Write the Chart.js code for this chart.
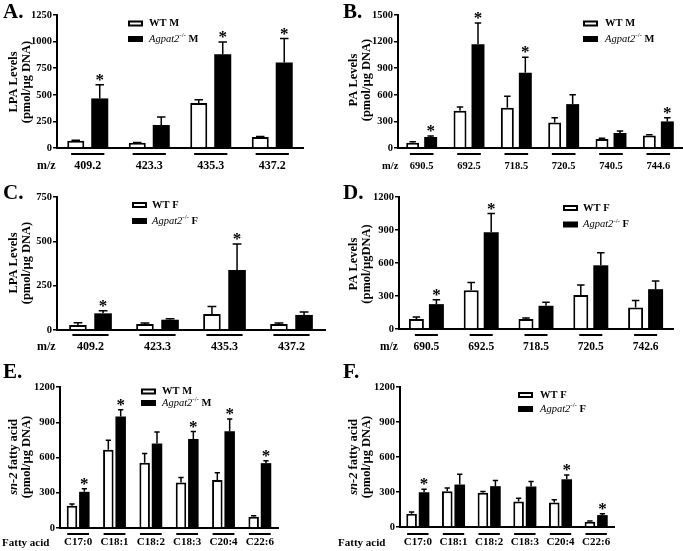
<!DOCTYPE html>
<html>
<head>
<meta charset="utf-8">
<script src="https://cdn.jsdelivr.net/npm/chart.js@4.4.0/dist/chart.umd.min.js"></script>
<style>
body { margin: 0; background: #fff; }
#wrap { position: relative; width: 683px; height: 551px; overflow: hidden; background: #fff; }
canvas { position: absolute; }
</style>
</head>
<body>
<div id="wrap">
  <canvas id="cA"></canvas>
  <canvas id="cB"></canvas>
  <canvas id="cC"></canvas>
  <canvas id="cD"></canvas>
  <canvas id="cE"></canvas>
  <canvas id="cF"></canvas>
</div>
<script>
var serif = '"Liberation Serif", "Times New Roman", serif';

// categories
var lpaMz = ['409.2', '423.3', '435.3', '437.2'];
var paMzMale = ['690.5', '692.5', '718.5', '720.5', '740.5', '744.6'];
var paMzFemale = ['690.5', '692.5', '718.5', '720.5', '742.6'];
var fattyAcids = ['C17:0', 'C18:1', 'C18:2', 'C18:3', 'C20:4', 'C22:6'];

// series names
var maleNames = ['WT M', 'Agpat2-/- M'];
var femaleNames = ['WT F', 'Agpat2-/- F'];

// A. LPA male (mean, error)
var lpaMaleWT = [69, 50, 422, 103];
var lpaMaleWTErr = [3, 2, 31, 4];
var lpaMaleKO = [466, 216, 881, 803];
var lpaMaleKOErr = [128, 75, 116, 225];
var lpaMaleSig = [1, 0, 1, 1];

// B. PA male
var paMaleWT = [60, 420, 454, 289, 101, 142];
var paMaleWTErr = [11, 41, 131, 52, 8, 8];
var paMaleKO = [124, 1170, 848, 495, 169, 300];
var paMaleKOErr = [11, 240, 176, 105, 22, 41];
var paMaleSig = [1, 1, 1, 0, 0, 1];

// C. LPA female
var lpaFemaleWT = [28, 34, 90, 34];
var lpaFemaleWTErr = [13, 5, 42, 5];
var lpaFemaleKO = [94, 58, 338, 85];
var lpaFemaleKOErr = [15, 6, 147, 17];
var lpaFemaleSig = [1, 0, 1, 0];

// D. PA female
var paFemaleWT = [90, 353, 90, 308, 196];
var paFemaleWTErr = [18, 69, 10, 93, 63];
var paFemaleKO = [226, 880, 211, 579, 362];
var paFemaleKOErr = [39, 169, 33, 114, 75];
var paFemaleSig = [1, 1, 0, 0, 0];

// E. sn-2 fatty acids male
var faMaleWT = [190, 665, 555, 388, 408, 96];
var faMaleWTErr = [14, 82, 79, 42, 62, 9];
var faMaleKO = [308, 948, 719, 758, 824, 552];
var faMaleKOErr = [26, 59, 99, 63, 104, 20];
var faMaleSig = [1, 1, 0, 1, 1, 1];

// F. sn-2 fatty acids female
var faFemaleWT = [114, 307, 293, 219, 210, 45];
var faFemaleWTErr = [14, 28, 11, 28, 23, 6];
var faFemaleKO = [298, 364, 350, 347, 409, 102];
var faFemaleKOErr = [26, 88, 48, 43, 37, 12];
var faFemaleSig = [1, 0, 0, 0, 1, 1];

var panels = [
  { id: 'cA', letter: 'A.', box: [0, 0, 340, 180], area: [57, 15, 303, 148], yMax: 1250, yStep: 250,
    labels: lpaMz, names: maleNames, wt: lpaMaleWT, wtErr: lpaMaleWTErr, ko: lpaMaleKO, koErr: lpaMaleKOErr, sig: lpaMaleSig,
    cat: 0.78, bar: 0.71, xFont: 12, xPad: 11, ul: 0.54, ulGap: 6,
    title: [[['LPA Levels', 'bold']], [['(pmol/µg DNA)', 'bold']]], titleX: [14, 27], titleCY: 82,
    leg: [128, 23.5, 39, 149], prefix: 'm/z', prefixPos: [37, 166], letterPos: [3, 18] },
  { id: 'cB', letter: 'B.', box: [340, 0, 343, 180], area: [398, 15, 682, 148], yMax: 1500, yStep: 300,
    labels: paMzMale, names: maleNames, wt: paMaleWT, wtErr: paMaleWTErr, ko: paMaleKO, koErr: paMaleKOErr, sig: paMaleSig,
    cat: 0.76, bar: 0.72, xFont: 10.5, xPad: 12, ul: 0.5, ulGap: 6,
    title: [[['PA Levels', 'bold']], [['(pmol/µg DNA)', 'bold']]], titleX: [354, 367], titleCY: 80,
    leg: [583, 23.5, 39, 605], prefix: 'm/z', prefixPos: [382, 166], letterPos: [343, 18] },
  { id: 'cC', letter: 'C.', box: [0, 180, 340, 180], area: [57, 197, 325, 330], yMax: 750, yStep: 250,
    labels: lpaMz, names: femaleNames, wt: lpaFemaleWT, wtErr: lpaFemaleWTErr, ko: lpaFemaleKO, koErr: lpaFemaleKOErr, sig: lpaFemaleSig,
    cat: 0.75, bar: 0.70, xFont: 12, xPad: 10, ul: 0.54, ulGap: 5,
    title: [[['LPA Levels', 'bold']], [['(pmol/µg DNA)', 'bold']]], titleX: [14, 27], titleCY: 263,
    leg: [132, 205, 221, 152], prefix: 'm/z', prefixPos: [37, 347], letterPos: [3, 199] },
  { id: 'cD', letter: 'D.', box: [340, 180, 343, 180], area: [399, 197, 673, 329], yMax: 1200, yStep: 300,
    labels: paMzFemale, names: femaleNames, wt: paFemaleWT, wtErr: paFemaleWTErr, ko: paFemaleKO, koErr: paFemaleKOErr, sig: paFemaleSig,
    cat: 0.73, bar: 0.75, xFont: 11.5, xPad: 11, ul: 0.42, ulGap: 6,
    title: [[['PA Levels', 'bold']], [['(pmol/µgDNA)', 'bold']]], titleX: [354, 367], titleCY: 264,
    leg: [563, 208, 224.5, 583], prefix: 'm/z', prefixPos: [380, 347], letterPos: [343, 199] },
  { id: 'cE', letter: 'E.', box: [0, 360, 340, 191], area: [60, 387, 278, 528], yMax: 1200, yStep: 300,
    labels: fattyAcids, names: maleNames, wt: faMaleWT, wtErr: faMaleWTErr, ko: faMaleKO, koErr: faMaleKOErr, sig: faMaleSig,
    cat: 0.68, bar: 0.85, xFont: 11, xPad: 8, ul: 0.6, ulGap: 6,
    title: [[['sn-2', 'italic bold'], [' fatty acid', 'bold']], [['(pmol/µg DNA)', 'bold']]], titleX: [14, 27], titleCY: 457,
    leg: [141, 391.5, 403, 162], prefix: 'Fatty acid', prefixPos: [2, 543], letterPos: [3, 378] },
  { id: 'cF', letter: 'F.', box: [330, 360, 353, 191], area: [400, 387, 614, 527], yMax: 1200, yStep: 300,
    labels: fattyAcids, names: femaleNames, wt: faFemaleWT, wtErr: faFemaleWTErr, ko: faFemaleKO, koErr: faFemaleKOErr, sig: faFemaleSig,
    cat: 0.70, bar: 0.85, xFont: 11, xPad: 9, ul: 0.6, ulGap: 7,
    title: [[['sn-2', 'italic bold'], [' fatty acid', 'bold']], [['(pmol/µg DNA)', 'bold']]], titleX: [354, 367], titleCY: 457,
    leg: [518, 395, 409, 540], prefix: 'Fatty acid', prefixPos: [338, 543], letterPos: [343, 378] }
];

function rotText(ctx, parts, size, cx, cy) {
  ctx.save();
  ctx.translate(cx, cy);
  ctx.rotate(-Math.PI / 2);
  var total = 0;
  parts.forEach(function(pt) {
    ctx.font = pt[1] + ' ' + size + 'px ' + serif;
    total += ctx.measureText(pt[0]).width;
  });
  var x = -total / 2;
  ctx.textAlign = 'left';
  ctx.textBaseline = 'middle';
  parts.forEach(function(pt) {
    ctx.font = pt[1] + ' ' + size + 'px ' + serif;
    ctx.fillText(pt[0], x, 0);
    x += ctx.measureText(pt[0]).width;
  });
  ctx.restore();
}

function legendText(ctx, name, x, y) {
  var m = name.match(/^(\S+?)(-\/-)(.*)$/);
  var parts;
  if (m) {
    parts = [[m[1], 'italic 10.5px', 0], [m[2], '7px', -3.5], [m[3], 'bold 10.5px', 0]];
  } else {
    parts = [[name, 'bold 10.5px', 0]];
  }
  ctx.textAlign = 'left';
  ctx.textBaseline = 'middle';
  parts.forEach(function(pt) {
    ctx.font = pt[1] + ' ' + serif;
    ctx.fillText(pt[0], x, y + pt[2]);
    x += ctx.measureText(pt[0]).width;
  });
}

function drawDecor(chart, p) {
  var ctx = chart.ctx;
  var xs = chart.scales.x, ys = chart.scales.y;
  var ox = p.box[0], oy = p.box[1];
  ctx.save();
  ctx.fillStyle = '#000';
  ctx.strokeStyle = '#000';

  // error bars + stars
  chart.data.datasets.forEach(function(ds, di) {
    chart.getDatasetMeta(di).data.forEach(function(bar, i) {
      var yTop = ys.getPixelForValue(ds.data[i] + ds.err[i]);
      var half = bar.width * 0.25;
      ctx.lineWidth = 1.5;
      ctx.beginPath();
      ctx.moveTo(bar.x, bar.y);
      ctx.lineTo(bar.x, yTop);
      ctx.moveTo(bar.x - half, yTop);
      ctx.lineTo(bar.x + half, yTop);
      ctx.stroke();
      if (ds.sig && ds.sig[i]) {
        ctx.font = 'bold 17px ' + serif;
        ctx.textAlign = 'center';
        ctx.textBaseline = 'alphabetic';
        ctx.fillText('*', bar.x, yTop);
      }
    });
  });

  // group underlines
  var catW = xs.width / p.labels.length;
  ctx.lineWidth = 2;
  p.labels.forEach(function(l, i) {
    var cx = xs.getPixelForValue(i);
    ctx.beginPath();
    ctx.moveTo(cx - catW * p.ul / 2, ys.bottom + p.ulGap);
    ctx.lineTo(cx + catW * p.ul / 2, ys.bottom + p.ulGap);
    ctx.stroke();
  });

  // prefix (m/z, Fatty acid)
  ctx.font = 'bold ' + p.xFont + 'px ' + serif;
  ctx.textAlign = 'left';
  ctx.textBaseline = 'middle';
  ctx.fillText(p.prefix, p.prefixPos[0] - ox, p.prefixPos[1] - oy);

  // panel letter
  ctx.font = 'bold 21px ' + serif;
  ctx.textBaseline = 'alphabetic';
  ctx.fillText(p.letter, p.letterPos[0] - ox, p.letterPos[1] - oy);

  // y title
  rotText(ctx, p.title[0], 12.5, p.titleX[0] - ox, p.titleCY - oy);
  rotText(ctx, p.title[1], 12.5, p.titleX[1] - ox, p.titleCY - oy);

  // legend
  p.names.forEach(function(name, i) {
    var bx = p.leg[0] - ox, cy = p.leg[1 + i] - oy;
    if (i === 0) {
      ctx.lineWidth = 2;
      ctx.strokeRect(bx + 1, cy - 2, 13, 4);
    } else {
      ctx.fillRect(bx, cy - 3, 15, 6);
    }
    legendText(ctx, name, p.leg[3] - ox, cy);
  });
  ctx.restore();
}

function makePanel(p) {
  var cv = document.getElementById(p.id);
  var left = p.box[0], top = p.box[1], w = p.box[2], h = p.box[3];
  var a = p.area;
  cv.width = w;
  cv.height = h;
  cv.style.left = left + 'px';
  cv.style.top = top + 'px';
  cv.style.width = w + 'px';
  cv.style.height = h + 'px';

  new Chart(cv, {
    type: 'bar',
    data: {
      labels: p.labels,
      datasets: [
        { label: p.names[0], data: p.wt, err: p.wtErr, backgroundColor: '#fff', borderColor: '#000', borderWidth: 2,
          categoryPercentage: p.cat, barPercentage: p.bar },
        { label: p.names[1], data: p.ko, err: p.koErr, sig: p.sig, backgroundColor: '#000', borderColor: '#000', borderWidth: 0,
          categoryPercentage: p.cat, barPercentage: p.bar }
      ]
    },
    options: {
      responsive: false,
      animation: false,
      devicePixelRatio: 1,
      layout: { padding: { left: 0, top: a[1] - top, right: left + w - a[2], bottom: 0 } },
      plugins: { legend: { display: false }, tooltip: { enabled: false } },
      scales: {
        x: {
          grid: { display: false, drawTicks: false },
          border: { color: '#000', width: 2 },
          ticks: { color: '#000', font: { family: serif, weight: 'bold', size: p.xFont }, padding: p.xPad,
                   maxRotation: 0, autoSkip: false },
          afterFit: function(s) { s.height = top + h - a[3]; }
        },
        y: {
          min: 0, max: p.yMax,
          ticks: { stepSize: p.yStep, color: '#000', font: { family: serif, weight: 'bold', size: 10.5 }, padding: 1,
                   callback: function(v) { return v; } },
          grid: { display: true, drawOnChartArea: false, drawTicks: true, tickLength: 4, color: '#000', lineWidth: 1.5 },
          border: { color: '#000', width: 2 },
          afterFit: function(s) { s.width = a[0] - left; }
        }
      }
    },
    plugins: [{ id: 'decor', afterDatasetsDraw: function(chart) { drawDecor(chart, p); } }]
  });
}

panels.forEach(makePanel);
</script>
</body>
</html>
